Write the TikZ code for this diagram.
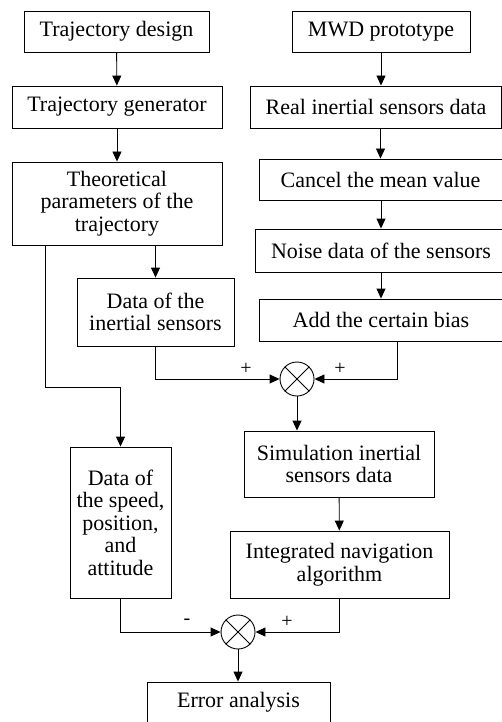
\documentclass[tikz,border=0pt]{standalone}
\usepackage{fontspec}
\setmainfont{Liberation Serif}
\usepackage{tikz}
\usetikzlibrary{arrows.meta,calc}
\tikzstyle{block} = [draw, line width=0.9pt, align=center, inner sep=0pt, font=\fontsize{22}{22.5}\selectfont]
\tikzstyle{arrow} = [-{Triangle[length=10pt,width=9pt]}, line width=0.9pt]
\tikzstyle{summer} = [draw, circle, line width=0.9pt, minimum size=34pt, inner sep=0pt]
\tikzstyle{sign} = [inner sep=0pt, font=\fontsize{20}{20}\selectfont]

\begin{document}
\begin{tikzpicture}[x=1pt,y=-1pt]
    \useasboundingbox (0,0) rectangle (502,722);
    % left column
    \node[block, minimum width=185pt, minimum height=41pt] (design) at (116.5,31.5) {Trajectory design};
    \node[block, minimum width=210pt, minimum height=42pt] (gen) at (117,107) {Trajectory generator};
    \node[block, minimum width=210pt, minimum height=83pt] (theo) at (117,203.5) {Theoretical\\parameters of the\\trajectory};
    \node[block, minimum width=157pt, minimum height=68pt] (inert) at (155.5,312) {Data of the\\inertial sensors};
    \node[block, minimum width=101pt, minimum height=151pt] (speed) at (120.5,522.5) {Data of\\the speed,\\position,\\and\\attitude};
    % right column
    \node[block, minimum width=178pt, minimum height=41pt] (mwd) at (381,31.5) {MWD prototype};
    \node[block, minimum width=251pt, minimum height=42pt] (real) at (376,107) {Real inertial sensors data};
    \node[block, minimum width=243pt, minimum height=41pt] (cancel) at (380.5,179.5) {Cancel the mean value};
    \node[block, minimum width=252pt, minimum height=43pt] (noise) at (381,250.5) {Noise data of the sensors};
    \node[block, minimum width=244pt, minimum height=42pt] (bias) at (381,320) {Add the certain bias};
    \node[block, minimum width=190pt, minimum height=66pt] (sim) at (339,464) {Simulation inertial\\sensors data};
    \node[block, minimum width=219pt, minimum height=67pt] (integ) at (339.5,564.5) {Integrated navigation\\algorithm};
    \node[block, minimum width=183pt, minimum height=41pt] (error) at (238.5,702.5) {Error analysis};
    % summing junctions
    \node[summer] (sum1) at (297,379) {};
    \draw[line width=0.9pt] (sum1.45) -- (sum1.225) (sum1.135) -- (sum1.315);
    \node[summer] (sum2) at (238,632) {};
    \draw[line width=0.9pt] (sum2.45) -- (sum2.225) (sum2.135) -- (sum2.315);
    \node[sign] (p1) at (246,369) {+};
    \node[sign] (p2) at (340,369) {+};
    \node[sign] (m3) at (187,622) {-};
    \node[sign] (p4) at (287,622) {+};
    \coordinate (bend) at (45,387);

    \draw[arrow] (design) -- (gen);
    \draw[arrow] (gen) -- (theo);
    \draw[arrow] (theo.south -| inert.north) -- (inert.north);
    \draw[arrow] (bend |- theo.south) -- (bend) -| (speed.north);
    \draw[arrow] (mwd.south) -- (mwd.south |- real.north);
    \draw[arrow] (cancel.north |- real.south) -- (cancel.north);
    \draw[arrow] (cancel.south -| noise.north) -- (noise.north);
    \draw[arrow] (noise) -- (bias);
    \draw[arrow] (inert.south) |- (sum1.west);
    \draw[arrow] ([xshift=16pt]bias.south) |- (sum1.east);
    \draw[arrow] (sum1.south) -- (sum1.south |- sim.north);
    \draw[arrow] (sim) -- (integ);
    \draw[arrow] (speed.south) |- (sum2.west);
    \draw[arrow] (integ.south) |- (sum2.east);
    \draw[arrow] (sum2.south) -- (sum2.south |- error.north);
\end{tikzpicture}
\end{document}
